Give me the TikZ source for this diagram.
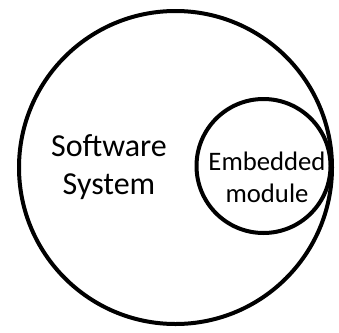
\documentclass[tikz,border=0pt]{standalone}
\usepackage{fontspec}
\setmainfont{Carlito}
\begin{document}
\begin{tikzpicture}[x=1pt, y=-1pt,
    ring/.style={draw, circle, line width=4pt, inner sep=0pt},
    words/.style={align=center, inner sep=0pt}]
  \useasboundingbox (0,0) rectangle (339,332);
  \node[ring, minimum size=313pt] (system) at (175.5,167.5) {};
  \node[ring, minimum size=134pt] (module) at (263.5,166) {};
  \node[words, font=\fontsize{32}{38}\selectfont] (systemtext) at (109,167) {Software\\System};
  \node[words, font=\fontsize{26.7}{32}\selectfont] (moduletext) at (267,177) {Embedded\\module};
\end{tikzpicture}
\end{document}
